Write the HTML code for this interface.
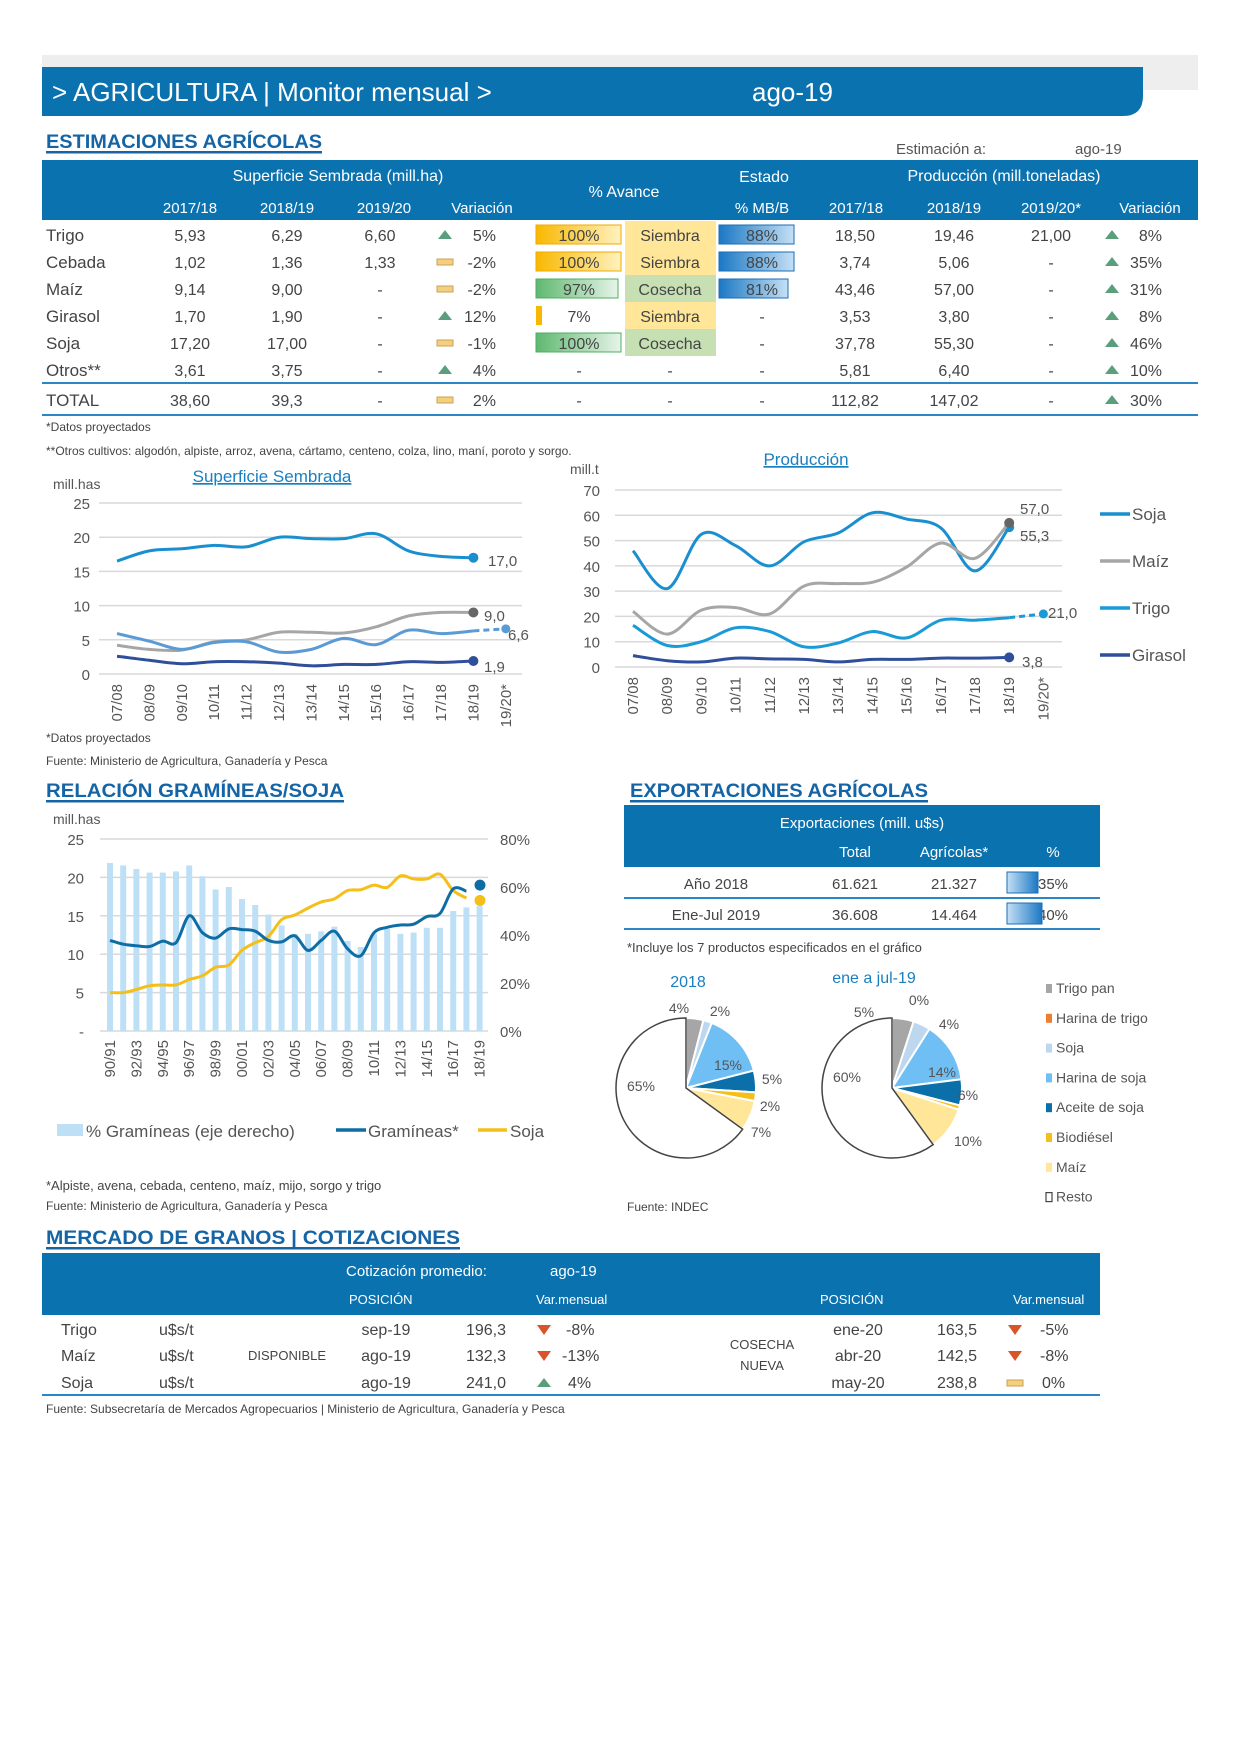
<!DOCTYPE html>
<html><head><meta charset="utf-8">
<style>
html,body{margin:0;padding:0;background:#fff}
svg{display:block}
text{font-family:"Liberation Sans",sans-serif}
</style></head><body>
<svg id="s" width="1241" height="1754" viewBox="0 0 1241 1754" xmlns="http://www.w3.org/2000/svg">
<rect width="1241" height="1754" fill="#fff"/>
<rect x="42" y="55" width="1156" height="35" fill="#eeeeee"/>
<path d="M42 67 H1143 V96 Q1143 116 1123 116 H42 Z" fill="#0b72b0"/>
<text x="52" y="101" font-size="26" fill="#fff">&gt; AGRICULTURA | Monitor mensual &gt;</text>
<text x="752" y="101" font-size="26" fill="#fff">ago-19</text>

<g fill="#1565a6" font-weight="bold" font-size="19">
<text x="46" y="148" textLength="276" lengthAdjust="spacingAndGlyphs">ESTIMACIONES AGRÍCOLAS</text>
<text x="46" y="797" textLength="298" lengthAdjust="spacingAndGlyphs">RELACIÓN GRAMÍNEAS/SOJA</text>
<text x="630" y="797" textLength="298" lengthAdjust="spacingAndGlyphs">EXPORTACIONES AGRÍCOLAS</text>
<text x="46" y="1244" textLength="414" lengthAdjust="spacingAndGlyphs">MERCADO DE GRANOS | COTIZACIONES</text>
</g>
<g fill="#1565a6"><rect x="46" y="151" width="276" height="2.5"/><rect x="46" y="800" width="298" height="2.5"/><rect x="630" y="800" width="298" height="2.5"/><rect x="46" y="1247" width="414" height="2.5"/></g>
<text x="896" y="154" font-size="15" fill="#555">Estimación a:</text>
<text x="1075" y="154" font-size="15" fill="#555">ago-19</text>

<rect x="42" y="160" width="1156" height="60" fill="#0b72b0"/>
<g fill="#fff" font-size="16" text-anchor="middle">
<text x="338" y="181">Superficie Sembrada (mill.ha)</text>
<text x="624" y="197">% Avance</text>
<text x="764" y="182">Estado</text>
<text x="1004" y="181">Producción (mill.toneladas)</text>
<g font-size="15"><text x="190" y="213">2017/18</text><text x="287" y="213">2018/19</text><text x="384" y="213">2019/20</text><text x="482" y="213">Variación</text><text x="762" y="213">% MB/B</text><text x="856" y="213">2017/18</text><text x="954" y="213">2018/19</text><text x="1051" y="213">2019/20*</text><text x="1150" y="213">Variación</text></g>
</g>
<defs>
<linearGradient id="gy" x1="0" x2="1"><stop offset="0" stop-color="#f9b800"/><stop offset="1" stop-color="#fff2c0"/></linearGradient>
<linearGradient id="gg" x1="0" x2="1"><stop offset="0" stop-color="#5fb870"/><stop offset="1" stop-color="#e6f4e8"/></linearGradient>
<linearGradient id="gb" x1="0" x2="1"><stop offset="0" stop-color="#1b78c4"/><stop offset="1" stop-color="#c5e0f5"/></linearGradient>
</defs>
<rect x="625" y="221" width="91" height="27" fill="#ffe699"/>
<rect x="625" y="248" width="91" height="27" fill="#ffe699"/>
<rect x="625" y="275" width="91" height="27" fill="#c6e0b4"/>
<rect x="625" y="302" width="91" height="27" fill="#ffe699"/>
<rect x="625" y="329" width="91" height="27" fill="#c6e0b4"/>
<rect x="536" y="225" width="85" height="19" fill="url(#gy)" stroke="#f2a900"/>
<rect x="536" y="252" width="85" height="19" fill="url(#gy)" stroke="#f2a900"/>
<rect x="536" y="279" width="82" height="19" fill="url(#gg)" stroke="#4caf60"/>
<rect x="536" y="306" width="6" height="19" fill="#f9b800"/>
<rect x="536" y="333" width="85" height="19" fill="url(#gg)" stroke="#4caf60"/>
<rect x="719" y="225" width="75" height="19" fill="url(#gb)" stroke="#1b6fb5"/>
<rect x="719" y="252" width="75" height="19" fill="url(#gb)" stroke="#1b6fb5"/>
<rect x="719" y="279" width="69" height="19" fill="url(#gb)" stroke="#1b6fb5"/>
<g font-size="16" fill="#444"><g id="rows"></g></g>
<rect x="42" y="382" width="1156" height="2" fill="#2a86c4"/>
<rect x="42" y="414" width="1156" height="2" fill="#2a86c4"/>
<text x="46" y="431" font-size="12" fill="#444">*Datos proyectados</text>
<text x="46" y="455" font-size="12" fill="#444">**Otros cultivos: algodón, alpiste, arroz, avena, cártamo, centeno, colza, lino, maní, poroto y sorgo.</text>

<text x="53" y="489" font-size="14" fill="#555">mill.has</text>
<text x="272" y="482" font-size="17" fill="#1a7fc0" text-anchor="middle" text-decoration="underline">Superficie Sembrada</text>
<text x="806" y="465" font-size="17" fill="#1a7fc0" text-anchor="middle" text-decoration="underline">Producción</text>
<text x="570" y="474" font-size="14" fill="#555">mill.t</text>
<g id="c1"></g><g id="c2"></g><g id="c3"></g>
<text x="46" y="742" font-size="12" fill="#444">*Datos proyectados</text>
<text x="46" y="765" font-size="12" fill="#444">Fuente: Ministerio de Agricultura, Ganadería y Pesca</text>
<text x="46" y="1190" font-size="13" fill="#444">*Alpiste, avena, cebada, centeno, maíz, mijo, sorgo y trigo</text>
<text x="46" y="1210" font-size="12" fill="#444">Fuente: Ministerio de Agricultura, Ganadería y Pesca</text>

<rect x="624" y="805" width="476" height="62" fill="#0b72b0"/>
<g fill="#fff" font-size="15" text-anchor="middle"><text x="862" y="828">Exportaciones (mill. u$s)</text><text x="855" y="857">Total</text><text x="954" y="857">Agrícolas*</text><text x="1053" y="857">%</text></g>
<g fill="#444" font-size="15" text-anchor="middle"><text x="716" y="889">Año 2018</text><text x="855" y="889">61.621</text><text x="954" y="889">21.327</text><text x="1053" y="889">35%</text>
<text x="716" y="920">Ene-Jul 2019</text><text x="855" y="920">36.608</text><text x="954" y="920">14.464</text><text x="1053" y="920">40%</text></g>
<rect x="1007" y="872" width="31" height="21" fill="url(#gb)" stroke="#1b6fb5" transform="rotate(180 1022.5 882.5)"/>
<rect x="1007" y="903" width="35" height="21" fill="url(#gb)" stroke="#1b6fb5" transform="rotate(180 1024.5 913.5)"/>
<rect x="624" y="897" width="476" height="2" fill="#2a86c4"/>
<rect x="624" y="928" width="476" height="2" fill="#2a86c4"/>
<text x="627" y="952" font-size="13" fill="#444">*Incluye los 7 productos especificados en el gráfico</text>
<text x="688" y="987" font-size="16" fill="#1a7fc0" text-anchor="middle">2018</text>
<text x="874" y="983" font-size="16" fill="#1a7fc0" text-anchor="middle">ene a jul-19</text>
<g id="pies"></g>
<g font-size="14" fill="#555" id="plg"></g>
<text x="627" y="1211" font-size="12" fill="#444">Fuente: INDEC</text>

<rect x="42" y="1253" width="1058" height="62" fill="#0b72b0"/>
<g fill="#fff"><text x="346" y="1276" font-size="15">Cotización promedio:</text><text x="550" y="1276" font-size="15">ago-19</text>
<g font-size="13"><text x="349" y="1304">POSICIÓN</text><text x="536" y="1304">Var.mensual</text><text x="820" y="1304">POSICIÓN</text><text x="1013" y="1304">Var.mensual</text></g></g>
<g fill="#444" font-size="16">
<text x="61" y="1335">Trigo</text><text x="61" y="1361">Maíz</text><text x="61" y="1388">Soja</text>
<text x="159" y="1335">u$s/t</text><text x="159" y="1361">u$s/t</text><text x="159" y="1388">u$s/t</text>
<text x="248" y="1360" font-size="13">DISPONIBLE</text>
<g text-anchor="middle"><text x="386" y="1335">sep-19</text><text x="386" y="1361">ago-19</text><text x="386" y="1388">ago-19</text>
<text x="762" y="1349" font-size="13">COSECHA</text><text x="762" y="1370" font-size="13">NUEVA</text>
<text x="858" y="1335">ene-20</text><text x="858" y="1361">abr-20</text><text x="858" y="1388">may-20</text></g>
<g text-anchor="end"><text x="506" y="1335">196,3</text><text x="506" y="1361">132,3</text><text x="506" y="1388">241,0</text><text x="977" y="1335">163,5</text><text x="977" y="1361">142,5</text><text x="977" y="1388">238,8</text></g>
<text x="566" y="1335">-8%</text><text x="562" y="1361">-13%</text><text x="568" y="1388">4%</text>
<text x="1040" y="1335">-5%</text><text x="1040" y="1361">-8%</text><text x="1042" y="1388">0%</text>
</g>
<g id="cotic"></g>
<rect x="42" y="1394" width="1058" height="2" fill="#2a86c4"/>
<text x="46" y="1413" font-size="12" fill="#444">Fuente: Subsecretaría de Mercados Agropecuarios | Ministerio de Agricultura, Ganadería y Pesca</text>
</svg>
<script>
var NS="http://www.w3.org/2000/svg";
function el(p,t,a,txt){var e=document.createElementNS(NS,t);for(var k in a)e.setAttribute(k,a[k]);if(txt!=null)e.textContent=txt;p.appendChild(e);return e;}
function up(p,x,y){el(p,'path',{d:'M'+(x-7)+' '+(y+4)+'L'+x+' '+(y-5)+'L'+(x+7)+' '+(y+4)+'Z',fill:'#5a9e7c'});}
function dn(p,x,y){el(p,'path',{d:'M'+(x-7)+' '+(y-5)+'L'+x+' '+(y+5)+'L'+(x+7)+' '+(y-5)+'Z',fill:'#d9532b'});}
function eq(p,x,y){el(p,'rect',{x:x-8,y:y-3,width:16,height:6,fill:'#f4cf7e',stroke:'#c9a35a','stroke-width':1});}
var R=document.getElementById('rows');
var rows=[["Trigo","5,93","6,29","6,60","u","5%","100%","Siembra","88%","18,50","19,46","21,00","u","8%",235],
["Cebada","1,02","1,36","1,33","e","-2%","100%","Siembra","88%","3,74","5,06","-","u","35%",262],
["Maíz","9,14","9,00","-","e","-2%","97%","Cosecha","81%","43,46","57,00","-","u","31%",289],
["Girasol","1,70","1,90","-","u","12%","7%","Siembra","-","3,53","3,80","-","u","8%",316],
["Soja","17,20","17,00","-","e","-1%","100%","Cosecha","-","37,78","55,30","-","u","46%",343],
["Otros**","3,61","3,75","-","u","4%","-","-","-","5,81","6,40","-","u","10%",370],
["TOTAL","38,60","39,3","-","e","2%","-","-","-","112,82","147,02","-","u","30%",400]];
rows.forEach(function(r){var y=r[14];
el(R,'text',{x:46,y:y+6,'font-size':17},r[0]);
[[190,1],[287,2],[380,3],[579,6],[670,7],[762,8],[855,9],[954,10],[1051,11]].forEach(function(c){el(R,'text',{x:c[0],y:y+6,'text-anchor':'middle'},r[c[1]]);});
(r[4]=='u'?up:eq)(R,445,y);el(R,'text',{x:496,y:y+6,'text-anchor':'end'},r[5]);
up(R,1112,y);el(R,'text',{x:1162,y:y+6,'text-anchor':'end'},r[13]);});
function sp(pts){var d='M'+pts[0][0].toFixed(1)+' '+pts[0][1].toFixed(1);for(var i=0;i<pts.length-1;i++){var p0=pts[i-1]||pts[i],p1=pts[i],p2=pts[i+1],p3=pts[i+2]||p2;var c1=[p1[0]+(p2[0]-p0[0])/6,p1[1]+(p2[1]-p0[1])/6],c2=[p2[0]-(p3[0]-p1[0])/6,p2[1]-(p3[1]-p1[1])/6];d+='C'+c1[0].toFixed(1)+' '+c1[1].toFixed(1)+' '+c2[0].toFixed(1)+' '+c2[1].toFixed(1)+' '+p2[0].toFixed(1)+' '+p2[1].toFixed(1);}return d;}
var yrs=["07/08","08/09","09/10","10/11","11/12","12/13","13/14","14/15","15/16","16/17","17/18","18/19","19/20*"];
function linechart(g,x0,step,gx0,gx1,yTop,yBot,max,ticks,series,lblx){
 function Y(v){return yBot-(yBot-yTop)*v/max;}
 ticks.forEach(function(t){el(g,'line',{x1:gx0,x2:gx1,y1:Y(t),y2:Y(t),stroke:'#d9d9d9','stroke-width':1.5});el(g,'text',{x:lblx,y:Y(t)+6,'font-size':15,fill:'#555','text-anchor':'end'},t);});
 yrs.forEach(function(s,i){var x=x0+i*step;el(g,'text',{x:0,y:0,'font-size':15,fill:'#555','text-anchor':'end',transform:'translate('+(x+5)+','+(yBot+10)+') rotate(-90)'},s);});
 series.forEach(function(s){var pts=s.d.map(function(v,i){return [x0+i*step,Y(v)];});
  el(g,'path',{d:sp(pts),fill:'none',stroke:s.c,'stroke-width':3});
  var a=pts[pts.length-1];
  if(s.dash){el(g,'path',{d:'M'+a[0]+' '+a[1]+'L'+(a[0]+step)+' '+Y(s.dash),stroke:s.c,'stroke-width':3,'stroke-dasharray':'6 4',fill:'none'});el(g,'circle',{cx:a[0]+step,cy:Y(s.dash),r:4.5,fill:s.c});}
  else{el(g,'circle',{cx:a[0],cy:a[1],r:5,fill:s.dc||s.c});}
  if(s.l)el(g,'text',{x:s.l[0],y:s.l[1],'font-size':15,fill:'#555'},s.l[2]);});
}
linechart(document.getElementById('c1'),117,32.4,99,522,503,674,25,[0,5,10,15,20,25],[
{d:[16.5,18,18.3,18.8,18.6,20,19.8,19.8,20.5,18,17.2,17.0],c:'#1a8fd0',l:[488,566,'17,0']},
{d:[4.2,3.6,3.5,4.7,5,6.1,6.1,6,6.9,8.5,9,9],c:'#a6a6a6',dc:'#666',l:[484,621,'9,0']},
{d:[5.9,4.8,3.6,4.6,4.7,3.2,3.6,5.2,4.3,6.4,5.9,6.3],c:'#5b9bd5',dash:6.6,l:[508,640,'6,6']},
{d:[2.6,2.0,1.5,1.8,1.8,1.6,1.2,1.4,1.4,1.8,1.7,1.9],c:'#2f4f9b',l:[484,672,'1,9']}],90);
linechart(document.getElementById('c2'),633,34.2,615,1062,490,667,70,[0,10,20,30,40,50,60,70],[
{d:[46,31,52.5,48,40,49.5,53,61,58.5,55,38,55.3],c:'#1a8fd0',l:[1020,541,'55,3']},
{d:[22,13,22.5,23.5,21,32,33,33.5,39.5,49,43,57],c:'#a6a6a6',dc:'#666',l:[1020,514,'57,0']},
{d:[16.5,8.5,10,15.5,14,8,9.5,14,11.5,18.5,18.5,19.5],c:'#1a9ad6',dash:21,l:[1048,618,'21,0']},
{d:[4.5,2.5,2,3.5,3.2,3,2,3,3,3.5,3.5,3.8],c:'#2f4f9b',l:[1022,667,'3,8']}],600);
var c2=document.getElementById('c2');
[['Soja','#1a8fd0',514],['Maíz','#a6a6a6',561],['Trigo','#1a9ad6',608],['Girasol','#2f4f9b',655]].forEach(function(l){el(c2,'line',{x1:1100,x2:1130,y1:l[2],y2:l[2],stroke:l[1],'stroke-width':3.5});el(c2,'text',{x:1132,y:l[2]+6,'font-size':17,fill:'#555'},l[0]);});
var g3=document.getElementById('c3');
function YL(v){return 1031-192*v/25;}function YR(v){return 1031-192*v/80;}
el(g3,'text',{x:53,y:824,'font-size':14,fill:'#555'},'mill.has');
[0,5,10,15,20,25].forEach(function(t){el(g3,'line',{x1:100,x2:488,y1:YL(t),y2:YL(t),stroke:'#d9d9d9','stroke-width':1.5});el(g3,'text',{x:84,y:YL(t)+6,'font-size':15,fill:'#555','text-anchor':'end'},t==0?'-':t);});
[0,20,40,60,80].forEach(function(t){el(g3,'text',{x:500,y:YR(t)+6,'font-size':15,fill:'#555'},t+'%');});
var bars=[70,69,67.5,66,66,66.5,69,64.5,59,60,55,52.5,48.5,44,40.5,40.5,41.5,43.5,37.5,35,40.5,42.5,40.5,41,43,43,50,51.5,52];
bars.forEach(function(v,i){var x=110+i*13.2;el(g3,'rect',{x:x-3,y:YR(v),width:6,height:1031-YR(v),fill:'#bde0f7'});});
var gr=[11.8,11.3,11.1,11.0,11.7,11.5,15,12.8,12.1,13.3,13.2,13,11.8,11.6,12.4,10.5,11.8,13,10.7,9.8,12.8,13.5,13.8,13.9,14.9,15.3,18.5,18.2];
var sj=[5,5,5.4,5.9,6,6,6.7,7.2,8.3,8.6,10.5,11.5,12.3,14.5,15.1,16,16.8,17.2,18.3,18.4,19,18.7,20.2,19.8,19.8,20.4,18.3,17.3];
el(g3,'path',{d:sp(sj.map(function(v,i){return [110+i*13.2,YL(v)];})),fill:'none',stroke:'#f5bf1a','stroke-width':3});
el(g3,'path',{d:sp(gr.map(function(v,i){return [110+i*13.2,YL(v)];})),fill:'none',stroke:'#0f6da5','stroke-width':3});
el(g3,'circle',{cx:480,cy:YL(19),r:5.5,fill:'#0f6da5'});el(g3,'circle',{cx:480,cy:YL(17),r:5.5,fill:'#f5bf1a'});
for(var i=0;i<29;i+=2){var y0=90+i;var lb=(''+(y0%100)).padStart(2,'0')+'/'+(''+((y0+1)%100)).padStart(2,'0');el(g3,'text',{x:0,y:0,'font-size':15,fill:'#555','text-anchor':'end',transform:'translate('+(110+i*13.2+5)+',1040) rotate(-90)'},lb);}
el(g3,'rect',{x:57,y:1124,width:26,height:12,fill:'#bde0f7'});el(g3,'text',{x:86,y:1137,'font-size':17,fill:'#555'},'% Gramíneas (eje derecho)');
el(g3,'line',{x1:336,x2:366,y1:1130,y2:1130,stroke:'#0f6da5','stroke-width':3.5});el(g3,'text',{x:368,y:1137,'font-size':17,fill:'#555'},'Gramíneas*');
el(g3,'line',{x1:478,x2:507,y1:1130,y2:1130,stroke:'#f5bf1a','stroke-width':3.5});el(g3,'text',{x:510,y:1137,'font-size':17,fill:'#555'},'Soja');
var P=document.getElementById('pies');
var cols=['#a6a6a6','#ed7d31','#bdd7ee','#6fbff5','#0b6faa','#f5bf1a','#ffe699','#ffffff'];
function pie(cx,cy,r,vals,labels){var a=0;vals.forEach(function(v,i){if(v<=0)return;var a1=a+v/100*2*Math.PI;var x0=cx+r*Math.sin(a),y0=cy-r*Math.cos(a),x1=cx+r*Math.sin(a1),y1=cy-r*Math.cos(a1);
 el(P,'path',{d:'M'+cx+' '+cy+'L'+x0+' '+y0+'A'+r+' '+r+' 0 '+(v>50?1:0)+' 1 '+x1+' '+y1+'Z',fill:cols[i],stroke:i==7?'#444':'#fff','stroke-width':i==7?1.5:2});a=a1;});
 labels.forEach(function(l){el(P,'text',{x:l[0],y:l[1],'font-size':14,fill:'#555','text-anchor':'middle'},l[2]);});}
pie(686,1088,70,[4,0,2,15,5,2,7,65],[[679,1013,'4%'],[720,1016,'2%'],[728,1070,'15%'],[772,1084,'5%'],[770,1111,'2%'],[761,1137,'7%'],[641,1091,'65%']]);
pie(892,1088,70,[5,0,4,14,6,1,10,60],[[864,1017,'5%'],[919,1005,'0%'],[949,1029,'4%'],[942,1077,'14%'],[968,1100,'6%'],[968,1146,'10%'],[847,1082,'60%']]);
var PL=document.getElementById('plg');
['Trigo pan','Harina de trigo','Soja','Harina de soja','Aceite de soja','Biodiésel','Maíz','Resto'].forEach(function(n,i){var y=993+i*29.8;el(PL,'rect',{x:1046,y:y-9,width:6,height:9,fill:cols[i],stroke:i==7?'#444':'none','stroke-width':1.2});el(PL,'text',{x:1056,y:y},n);});
var C=document.getElementById('cotic');
dn(C,544,1330);dn(C,544,1356);up(C,544,1383);dn(C,1015,1330);dn(C,1015,1356);eq(C,1015,1383);
</script>
</body></html>
